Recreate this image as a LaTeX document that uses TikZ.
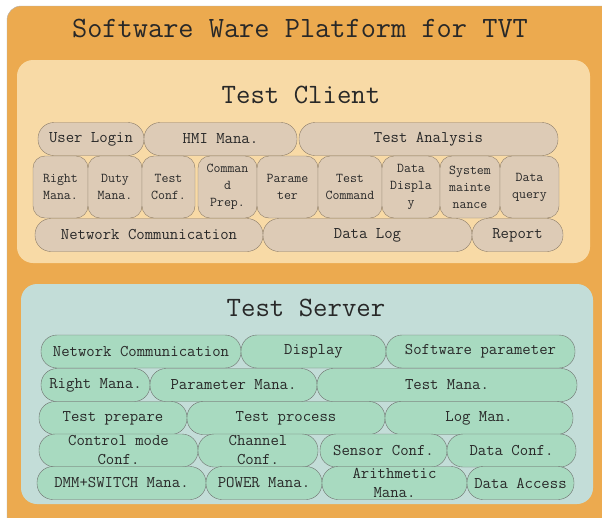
\documentclass[tikz,border=0pt]{standalone}
\usepackage{fontspec}
\definecolor{platform}{RGB}{236,170,79}
\definecolor{clientbg}{RGB}{248,218,166}
\definecolor{serverbg}{RGB}{195,221,216}
\definecolor{cfill}{RGB}{221,203,182}
\definecolor{cline}{RGB}{140,124,104}
\definecolor{sfill}{RGB}{168,218,192}
\definecolor{sline}{RGB}{110,112,110}
\definecolor{txt}{RGB}{40,40,40}
\begin{document}
\begin{tikzpicture}[x=1pt, y=-1pt, line join = round,
  box/.style = {inner sep=0pt, text=txt, align=center},
  cpill/.style = {box, draw=cline, fill=cfill, rounded corners=16pt, minimum height=33,
     font=\fontsize{16.3}{20}\selectfont\ttfamily},
  ccell/.style = {box, draw=cline, fill=cfill, rounded corners=12pt, minimum height=62,
     font=\fontsize{13.5}{17}\selectfont\ttfamily},
  spill/.style = {box, draw=sline, fill=sfill, rounded corners=16pt, minimum height=33,
     font=\fontsize{16.3}{19}\selectfont\ttfamily},
  heading/.style = {text=txt, font=\fontsize{28}{30}\selectfont\ttfamily}]
\useasboundingbox (0,0) rectangle (602,517);
%Khung ngoai
\begin{scope}
\clip (0,0) rectangle (602,517);
\draw[fill=platform, draw=gray!60, rounded corners=14pt] (7,6) rectangle (616,530);
\end{scope}
\node[heading, font=\fontsize{29.5}{31}\selectfont\ttfamily] (title) at (300,28) {Software Ware Platform for TVT};
%Test Client
\fill[clientbg, rounded corners=16pt] (17,60) rectangle (590,263);
\node[heading] (client) at (301,95) {Test Client};
\node[cpill, minimum width=106] (login) at (91,139) {User Login};
\node[cpill, minimum width=153] (hmi) at (220.5,139) {HMI Mana.};
\node[cpill, minimum width=259] (analysis) at (428.5,139) {Test Analysis};
\node[ccell, minimum width=55] (right) at (60.5,187) {Right\\Mana.};
\node[ccell, minimum width=54] (duty) at (115,187) {Duty\\Mana.};
\node[ccell, minimum width=53] (tconf) at (168.5,187) {Test\\Conf.};
\node[ccell, minimum width=59] (prep) at (227.5,187) {Comman\\d\\Prep.};
\node[ccell, minimum width=61] (param) at (287.5,187) {Parame\\ter};
\node[ccell, minimum width=64] (tcmd) at (350,187) {Test\\Command};
\node[ccell, minimum width=58] (ddisp) at (411,187) {Data\\Displa\\y};
\node[ccell, minimum width=60] (sysm) at (470,187) {System\\mainte\\nance};
\node[ccell, minimum width=59] (dquery) at (529.5,187) {Data\\query};
\node[cpill, minimum width=228] (cnet) at (149,235) {Network Communication};
\node[cpill, minimum width=209] (dlog) at (367.5,235) {Data Log};
\node[cpill, minimum width=91] (report) at (517.5,235) {Report};
%Test Server
\fill[serverbg, rounded corners=16pt] (21,284) rectangle (593,504);
\node[heading] (server) at (306,308) {Test Server};
\node[spill, minimum width=200] (snet) at (141,351.5) {Network Communication};
\node[spill, minimum width=145] (display) at (313.5,351.5) {Display};
\node[spill, minimum width=189] (swpar) at (480.5,351.5) {Software parameter};
\node[spill, minimum width=109] (sright) at (95.5,385) {Right Mana.};
\node[spill, minimum width=167] (parmana) at (233.5,385) {Parameter Mana.};
\node[spill, minimum width=260] (testmana) at (447,385) {Test Mana.};
\node[spill, minimum width=148] (tprep) at (113,418) {Test prepare};
\node[spill, minimum width=198] (tproc) at (286,418) {Test process};
\node[spill, minimum width=188] (logman) at (479,418) {Log Man.};
\node[spill, minimum width=159] (ctrl) at (118.5,450.5) {Control mode\\Conf.};
\node[spill, minimum width=120] (chan) at (258,450.5) {Channel\\Conf.};
\node[spill, minimum width=127] (sensor) at (383.5,450.5) {Sensor Conf.};
\node[spill, minimum width=129] (dconf) at (511.5,450.5) {Data Conf.};
\node[spill, minimum width=169] (dmm) at (121.5,483) {DMM+SWITCH Mana.};
\node[spill, minimum width=116] (power) at (264,483) {POWER Mana.};
\node[spill, minimum width=145] (arith) at (394.5,483) {Arithmetic\\Mana.};
\node[spill, minimum width=107] (daccess) at (520.5,483) {Data Access};
\end{tikzpicture}
\end{document}
